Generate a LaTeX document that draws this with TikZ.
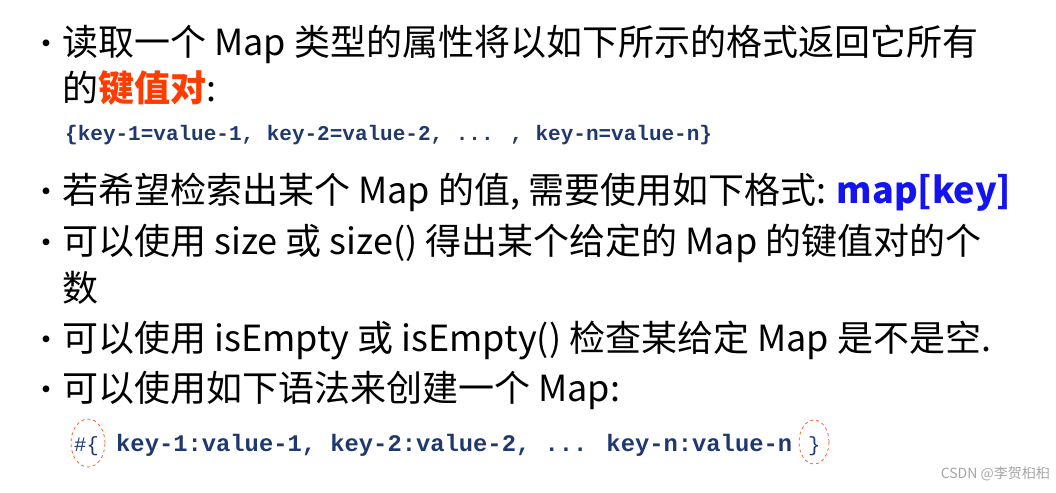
\documentclass[tikz,border=0pt]{standalone}
\usepackage{fontspec}
\usetikzlibrary{shapes.geometric}
\setmainfont{Noto Sans CJK SC}
\newfontfamily\codefont{Liberation Mono}
\newfontfamily\wm{Noto Sans CJK SC}
\definecolor{codeblue}{RGB}{31,56,110}
\definecolor{hl}{RGB}{255,60,0}
\definecolor{mapblue}{RGB}{20,20,240}
\begin{document}
\begin{tikzpicture}[x=1pt,y=1pt,
  txt/.style={anchor=base west,inner sep=0pt,font=\fontsize{36}{40}\selectfont},
  bul/.style={anchor=base west,inner sep=0pt,font=\fontsize{32}{40}\selectfont},
  code/.style={anchor=base west,inner sep=0pt,text=codeblue,font=\codefont\bfseries\fontsize{21}{24}\selectfont},
  oval/.style={draw=hl!90,dashed,ellipse,line width=0.7pt}]
\useasboundingbox (0,0) rectangle (1056,-492);
\fill[white] (0,0) rectangle (1056,-492);
\foreach \y/\n in {56/b1,203/b2,254/b3,351/b4,401/b5} \node[bul] (\n) at (30,-\y) {•};
\node[txt] (l1) at (62,-56) {读取一个 Map 类型的属性将以如下所示的格式返回它所有};
\node[txt] (l2) at (62,-102) {的\textcolor{hl}{\bfseries 键值对}:};
\node[code] (c1) at (65,-140) {\{key-1=value-1, key-2=value-2, ... , key-n=value-n\}};
\node[txt] (l3) at (62,-203) {若希望检索出某个 Map 的值, 需要使用如下格式: \textcolor{mapblue}{\bfseries map[key]}};
\node[txt] (l4) at (62,-254) {可以使用 size 或 size() 得出某个给定的 Map 的键值对的个};
\node[txt] (l5) at (62,-301) {数};
\node[txt] (l6) at (62,-351) {可以使用 isEmpty 或 isEmpty() 检查某给定 Map 是不是空.};
\node[txt] (l7) at (62,-401) {可以使用如下语法来创建一个 Map:};
\node[code,font=\codefont\fontsize{20.5}{24}\selectfont] (h) at (74,-451) {\#\{};
\node[code,font=\codefont\bfseries\fontsize{23.8}{24}\selectfont] (c2) at (116,-451) {key-1:value-1, key-2:value-2, ... key-n:value-n};
\node[code,font=\codefont\fontsize{20.5}{24}\selectfont] (rb) at (808,-451) {\}};
\node[oval,minimum width=34pt,minimum height=48pt] (o1) at (88,-443) {};
\node[oval,minimum width=30pt,minimum height=44pt] (o2) at (814,-442) {};
\node[anchor=base east,inner sep=0pt,text=gray!70,font=\wm\fontsize{14}{16}\selectfont] (wm) at (1050,-478) {CSDN @李贺桕桕};
\end{tikzpicture}
\end{document}
